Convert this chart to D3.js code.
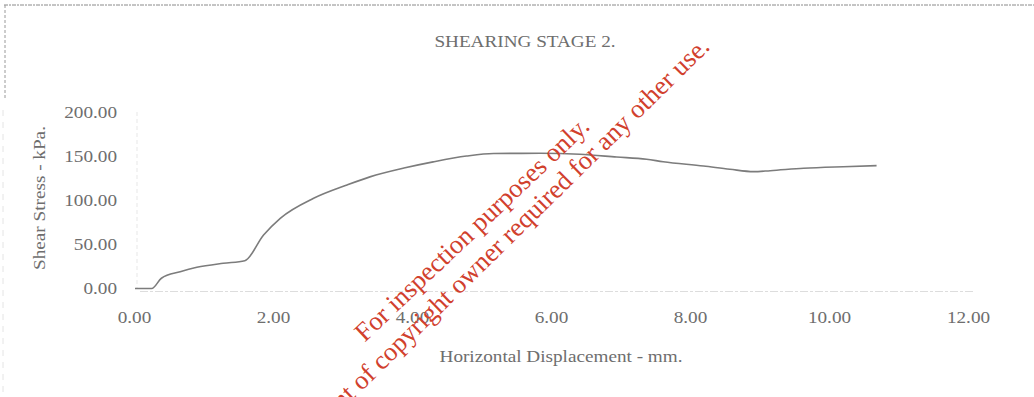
<!DOCTYPE html>
<html>
<head>
<meta charset="utf-8">
<script src="https://cdn.jsdelivr.net/npm/d3@7"></script>
<style>
  html, body { margin: 0; padding: 0; background: #fff; }
  svg { display: block; }
</style>
</head>
<body>
<svg id="chart" width="1034" height="397"></svg>
<script>
// ---- data ----
const dispX  = [0.00, 0.24, 0.38, 0.65, 0.89, 1.27, 1.58, 1.85, 2.09, 2.57, 3.05, 3.38, 3.87, 4.29, 4.77, 5.16, 5.83, 6.40, 6.93, 7.36, 7.60, 8.18, 8.56, 8.90, 9.14, 9.62, 10.19, 10.67];
const shearY = [0.0, 0.0, 11.6, 19.0, 24.0, 28.6, 31.5, 60.6, 79.5, 102.2, 117.3, 126.5, 136.5, 143.5, 150.1, 153.0, 153.2, 152.1, 149.0, 146.4, 143.7, 138.8, 135.1, 132.4, 133.5, 136.2, 138.0, 139.2];
const xTicks = [0, 2, 4, 6, 8, 10, 12];
const yTicks = [0, 50, 100, 150, 200];
const titleText = "SHEARING STAGE 2.";
const xTitle = "Horizontal Displacement - mm.";
const yTitle = "Shear Stress - kPa.";
const watermark1 = "For inspection purposes only.";
const watermark2 = "Consent of copyright owner required for any other use.";

const svg = d3.select("#chart");
const SX = 1.2; // horizontal stretch of the scanned text
const textColor = "#6e6e6e";
const font = "'Liberation Serif', 'Times New Roman', serif";

const x = d3.scaleLinear().domain([0, 12]).range([135, 969]);
const y = d3.scaleLinear().domain([0, 200]).range([288.5, 112]);

// scanned page edges (dashed)
svg.append("line").attr("x1", 4).attr("x2", 1034).attr("y1", 5).attr("y2", 5)
  .attr("stroke", "#8a8a8a").attr("stroke-width", 1).attr("stroke-dasharray", "4,1,2,1");
svg.append("line").attr("x1", 5).attr("x2", 5).attr("y1", 5).attr("y2", 100)
  .attr("stroke", "#9a9a9a").attr("stroke-width", 1).attr("stroke-dasharray", "3,2");
svg.append("line").attr("x1", 3).attr("x2", 3).attr("y1", 110).attr("y2", 397)
  .attr("stroke", "#e4e4e4").attr("stroke-width", 1).attr("stroke-dasharray", "6,6");

// faint axis lines
svg.append("line").attr("x1", x(0) + 5).attr("x2", x(12) + 5).attr("y1", y(0) + 3).attr("y2", y(0) + 3)
  .attr("stroke", "#dddddd").attr("stroke-width", 1.2).attr("stroke-dasharray", "8,2,3,2");
svg.append("line").attr("x1", x(0) + 2).attr("x2", x(0) + 2).attr("y1", y(200)).attr("y2", y(0))
  .attr("stroke", "#f0f0f0").attr("stroke-width", 1.5).attr("stroke-dasharray", "4,3");

function stretch(sel) {
  sel.each(function () {
    const t = d3.select(this);
    const xv = +t.attr("x") || 0;
    t.attr("x", xv / SX).attr("transform", `scale(${SX},1)`);
  });
}

// y axis
const yAxis = d3.axisLeft(y).tickValues(yTicks).tickFormat(d3.format(".2f")).tickSize(0).tickPadding(18);
const gy = svg.append("g").attr("transform", `translate(${x(0)},0)`).call(yAxis);
gy.select(".domain").remove();
gy.selectAll("text").attr("font-family", font).attr("font-size", 16).attr("fill", textColor).call(stretch);

// x axis
const xAxis = d3.axisBottom(x).tickValues(xTicks).tickFormat(d3.format(".2f")).tickSize(0).tickPadding(23);
const gx = svg.append("g").attr("transform", `translate(-1,${y(0)})`).call(xAxis);
gx.select(".domain").remove();
gx.selectAll("text").attr("font-family", font).attr("font-size", 16).attr("fill", textColor).call(stretch);

// title and axis titles
svg.append("g").attr("transform", "translate(525,47)")
  .append("text").attr("text-anchor", "middle").attr("transform", `scale(${SX},1)`)
  .attr("font-family", font).attr("font-size", 16).attr("fill", textColor).text(titleText);

svg.append("g").attr("transform", "translate(561,362)")
  .append("text").attr("text-anchor", "middle").attr("transform", `scale(${SX},1)`)
  .attr("font-family", font).attr("font-size", 16).attr("fill", textColor).text(xTitle);

svg.append("g").attr("transform", "translate(45,198) rotate(-90)")
  .append("text").attr("text-anchor", "middle").attr("transform", `scale(${SX},1)`)
  .attr("font-family", font).attr("font-size", 16).attr("fill", textColor).text(yTitle);

// data line
const line = d3.line().x((d, i) => x(dispX[i])).y(d => y(d)).curve(d3.curveMonotoneX);
svg.append("path").datum(shearY).attr("d", line)
  .attr("fill", "none").attr("stroke", "#7c7c7c").attr("stroke-width", 1.6);

// watermark
const wm = "#d1402d";
svg.append("text").attr("transform", "translate(591,128) rotate(-43.5)")
  .attr("text-anchor", "end").attr("font-family", font).attr("font-size", 26.5)
  .attr("fill", wm).text(watermark1);
svg.append("text").attr("transform", "translate(711,48) rotate(-44.5)")
  .attr("text-anchor", "end").attr("font-family", font).attr("font-size", 26.5)
  .attr("fill", wm).text(watermark2);
</script>
</body>
</html>
